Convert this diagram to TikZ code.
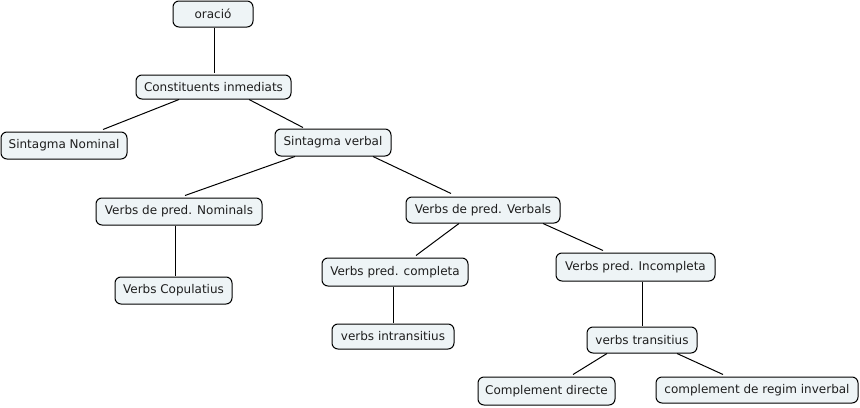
\documentclass[tikz,border=0pt]{standalone}
\usepackage{fontspec}
\setmainfont{DejaVu Sans}
\usetikzlibrary{calc}
\definecolor{boxfill}{RGB}{238,244,246}
\definecolor{boxtext}{RGB}{30,30,30}
\begin{document}
\begin{tikzpicture}[x=0.75pt,y=-0.75pt,
  cbox/.style 2 args={draw=black, fill=boxfill, rounded corners=4.5pt, line width=0.75pt,
    minimum width=#1*0.75pt, minimum height=#2*0.75pt, inner sep=0pt,
    font=\fontsize{9pt}{11pt}\selectfont, text=boxtext},
  link/.style={line width=0.75pt, black}]
\useasboundingbox (0,0) rectangle (860,407);
\fill[white] (0,0) rectangle (860,407);
\node[cbox={80}{26}]  (or)  at (213,14)     {oració};
\node[cbox={155}{24}] (ci)  at (213.5,87)   {Constituents inmediats};
\node[cbox={126}{27}] (sn)  at (64,145.5)   {Sintagma Nominal};
\node[cbox={116}{27}] (sv)  at (333,142.5)  {Sintagma verbal};
\node[cbox={166}{27}] (vpn) at (179,211.5)  {Verbs de pred. Nominals};
\node[cbox={117}{27}] (vc)  at (173.5,290.5){Verbs Copulatius};
\node[cbox={154}{26}] (vpv) at (483,210)    {Verbs de pred. Verbals};
\node[cbox={146}{28}] (vpc) at (395,272)    {Verbs pred. completa};
\node[cbox={122}{25}] (vit) at (393,336.5)  {verbs intransitius};
\node[cbox={159}{28}] (vpi) at (635.5,267)  {Verbs pred. Incompleta};
\node[cbox={110}{26}] (vt)  at (642,340)    {verbs transitius};
\node[cbox={137}{28}] (cd)  at (546.5,391)  {Complement directe};
\node[cbox={202}{26}] (cri) at (757,390)    {complement de regim inverbal};

\draw[link] ($(or.south)+(1,0)$) -- ($(ci.north)+(0.5,-2)$);
\draw[link] ($(ci.south)+(-34.5,0)$) -- ($(sn.north)+(39,-2)$);
\draw[link] ($(ci.south)+(35.5,0)$) -- ($(sv.north)+(-30,-1)$);
\draw[link] ($(sv.south)+(-38,0)$) -- ($(vpn.north)+(6,-2)$);
\draw[link] ($(sv.south)+(40,0)$) -- ($(vpv.north)+(-32,-3)$);
\draw[link] ($(vpn.south)+(-4,0)$) -- ($(vc.north)+(1.5,-1)$);
\draw[link] ($(vpv.south)+(-24,0)$) -- ($(vpc.north)+(21,-2)$);
\draw[link] ($(vpv.south)+(60,0)$) -- ($(vpi.north)+(-32.5,-2)$);
\draw[link] ($(vpc.south)+(-2,0)$) -- ($(vit.north)+(0,-1)$);
\draw[link] ($(vpi.south)+(6.5,0)$) -- ($(vt.north)+(0,-1)$);
\draw[link] ($(vt.south)+(-35,0)$) -- ($(cd.north)+(26.5,-2)$);
\draw[link] ($(vt.south)+(35,0)$) -- ($(cri.north)+(-34,-2)$);
\end{tikzpicture}
\end{document}
